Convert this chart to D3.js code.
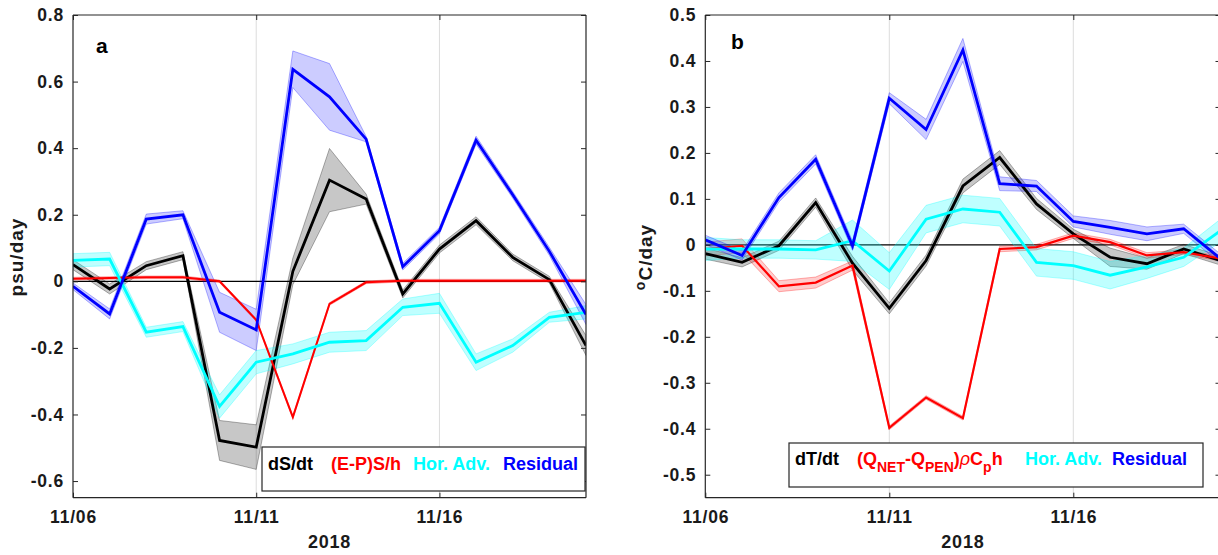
<!DOCTYPE html>
<html><head><meta charset="utf-8">
<script src="https://cdn.jsdelivr.net/npm/d3@7"></script>
<style>body{margin:0;background:#fff}text{font-family:"Liberation Sans",Arial,Helvetica,sans-serif;font-weight:bold}</style>
</head><body>
<svg id="c" width="1218" height="555"></svg>
<script>
const dates = ["2018-11-06","2018-11-07","2018-11-08","2018-11-09","2018-11-10","2018-11-11","2018-11-12","2018-11-13","2018-11-14","2018-11-15","2018-11-16","2018-11-17","2018-11-18","2018-11-19","2018-11-20"];
const xTickDates = ["2018-11-06","2018-11-11","2018-11-16"];
const yTicksA = [-0.6,-0.4,-0.2,0,0.2,0.4,0.6,0.8];
const yTicksB = [-0.5,-0.4,-0.3,-0.2,-0.1,0,0.1,0.2,0.3,0.4,0.5];

// Panel a (salinity budget, psu/day)
const dSdt   = [0.05,-0.023,0.047,0.077,-0.478,-0.498,0.03,0.304,0.247,-0.038,0.097,0.182,0.072,0.005,-0.193];
const dSdtErr= [0.015,0.015,0.012,0.012,0.06,0.067,0.04,0.095,0.015,0.012,0.012,0.012,0.01,0.01,0.03];
const epS    = [0.008,0.01,0.012,0.012,0.0,-0.116,-0.408,-0.068,-0.003,0.002,0.002,0.002,0.002,0.002,0.002];
const epSErr = [0.004,0.004,0.004,0.004,0.004,0.004,0.004,0.004,0.004,0.004,0.004,0.004,0.004,0.004,0.004];
const advS   = [0.063,0.067,-0.153,-0.136,-0.376,-0.243,-0.218,-0.183,-0.178,-0.078,-0.066,-0.243,-0.193,-0.108,-0.093];
const advSErr= [0.02,0.02,0.015,0.015,0.035,0.035,0.03,0.03,0.03,0.025,0.03,0.025,0.02,0.015,0.02];
const resS   = [-0.015,-0.098,0.187,0.2,-0.093,-0.146,0.637,0.554,0.427,0.044,0.152,0.424,0.26,0.09,-0.1];
const resSErr= [0.01,0.015,0.015,0.012,0.06,0.062,0.055,0.1,0.008,0.01,0.01,0.012,0.01,0.012,0.03];

// Panel b (temperature budget, °C/day)
const dTdt   = [-0.019,-0.038,-0.002,0.092,-0.04,-0.138,-0.034,0.128,0.19,0.089,0.024,-0.027,-0.041,-0.009,-0.034];
const dTdtErr= [0.012,0.01,0.01,0.01,0.015,0.012,0.012,0.015,0.015,0.012,0.01,0.02,0.012,0.01,0.01];
const qT     = [-0.009,-0.002,-0.09,-0.082,-0.045,-0.398,-0.332,-0.377,-0.009,-0.005,0.02,0.006,-0.023,-0.016,-0.03];
const qTErr  = [0.015,0.015,0.012,0.012,0.01,0.004,0.004,0.004,0.006,0.006,0.006,0.006,0.006,0.005,0.005];
const advT   = [-0.009,-0.009,-0.009,-0.011,0.009,-0.057,0.056,0.078,0.071,-0.038,-0.045,-0.066,-0.048,-0.027,0.031];
const advTErr= [0.025,0.02,0.02,0.02,0.045,0.04,0.03,0.03,0.03,0.03,0.03,0.03,0.025,0.02,0.025];
const resT   = [0.011,-0.023,0.103,0.186,-0.002,0.319,0.251,0.424,0.133,0.128,0.051,0.038,0.024,0.035,-0.03];
const resTErr= [0.01,0.01,0.01,0.01,0.01,0.012,0.022,0.025,0.015,0.012,0.012,0.015,0.015,0.01,0.01];

const parse = d3.utcParse("%Y-%m-%d");
const X = dates.map(parse);
const svg = d3.select("#c");
const AX = "#262626";

function panel(cfg){
  const x = d3.scaleUtc().domain([X[0], X[X.length-1]]).range(cfg.xr);
  const y = d3.scaleLinear().domain(cfg.yd).range([497.7, 15]);
  const g = svg.append("g");
  const clipId = "clip"+cfg.id;
  svg.append("clipPath").attr("id",clipId).append("rect")
    .attr("x",cfg.xr[0]).attr("y",15).attr("width",cfg.xr[1]-cfg.xr[0]).attr("height",482.7);
  // grid
  const tdates = xTickDates.map(parse);
  g.selectAll(".grid").data(tdates.slice(1)).join("line")
    .attr("x1",d=>x(d)).attr("x2",d=>x(d)).attr("y1",15).attr("y2",497.7)
    .attr("stroke","#dcdcdc").attr("stroke-width",1);
  const pg = g.append("g").attr("clip-path",`url(#${clipId})`);
  // zero line
  pg.append("line").attr("x1",cfg.xr[0]).attr("x2",cfg.xr[1]).attr("y1",y(0)).attr("y2",y(0))
    .attr("stroke","#000").attr("stroke-width",1.3);
  const area = d3.area().x((d,i)=>x(X[i])).y0(d=>y(d[0]-d[1])).y1(d=>y(d[0]+d[1]));
  const line = d3.line().x((d,i)=>x(X[i])).y(d=>y(d));
  cfg.series.forEach(s=>{
    pg.append("path").datum(s.v.map((v,i)=>[v,s.e[i]])).attr("d",area)
      .attr("fill",s.c).attr("fill-opacity",s.fo).attr("stroke",s.c).attr("stroke-opacity",0.3).attr("stroke-width",1);
  });
  cfg.series.forEach(s=>{
    pg.append("path").datum(s.v).attr("d",line).attr("fill","none")
      .attr("stroke",s.c).attr("stroke-width",s.w).attr("stroke-linejoin","miter");
  });
  // axes
  const yAxL = d3.axisLeft(y).tickValues(cfg.yt).tickSize(-5).tickPadding(9)
    .tickFormat(d=>d===0?"0":d3.format(".1f")(d).replace("−","-"));
  const gl = g.append("g").attr("transform",`translate(${cfg.xr[0]},0)`).call(yAxL);
  const yAxR = d3.axisRight(y).tickValues(cfg.yt).tickSize(-5).tickFormat("");
  const gr = g.append("g").attr("transform",`translate(${cfg.xr[1]},0)`).call(yAxR);
  const xAxB = d3.axisBottom(x).tickValues(tdates).tickSize(-5).tickPadding(13).tickFormat(d3.utcFormat("%m/%d"));
  const gb = g.append("g").attr("transform",`translate(0,497.7)`).call(xAxB);
  const xAxT = d3.axisTop(x).tickValues(tdates).tickSize(-5).tickFormat("");
  const gt = g.append("g").attr("transform",`translate(0,15)`).call(xAxT);
  [gl,gr,gb,gt].forEach(a=>{
    a.selectAll(".domain").attr("stroke",AX).attr("stroke-width",1.2);
    a.selectAll(".tick line").attr("stroke",AX);
    a.selectAll("text").attr("fill","#1a1a1a").attr("font-size",17.5).attr("letter-spacing",0.8).attr("font-family",null);
  });
  gl.selectAll(".domain").attr("d",`M0,15V497.7`);
  gr.selectAll(".domain").attr("d",`M0,15V497.7`);
  gb.selectAll(".domain").attr("d",`M${cfg.xr[0]},0H${cfg.xr[1]}`);
  gt.selectAll(".domain").attr("d",`M${cfg.xr[0]},0H${cfg.xr[1]}`);
  // labels
  g.append("text").attr("x",(cfg.xr[0]+cfg.xr[1])/2).attr("y",548).attr("text-anchor","middle")
    .attr("font-size",18).attr("letter-spacing",0.8).attr("fill","#1a1a1a").text("2018");
  g.append("text").attr("x",cfg.letterX).attr("y",cfg.letterY).attr("font-size",21).attr("fill","#000").text(cfg.letter);
  const yl = g.append("text").attr("transform",`translate(${cfg.ylx},257) rotate(-90)`)
    .attr("text-anchor","middle").attr("font-size",19).attr("letter-spacing",1).attr("fill","#1a1a1a");
  cfg.ylab(yl);
  // legend
  const L = cfg.legend;
  g.append("rect").attr("x",L.x).attr("y",L.y).attr("width",L.w).attr("height",L.h)
    .attr("fill","#fff").attr("stroke",AX).attr("stroke-width",1.2);
  L.items.forEach(it=>{
    const t = g.append("text").attr("x",it.x).attr("y",L.base).attr("font-size",18).attr("fill",it.c);
    it.build(t);
  });
}

const BLACK="#000000", RED="#ff0000", CYAN="#00ffff", BLUE="#0000ff";

panel({
  id:"a", xr:[73,586], yd:[-0.65,0.8], yt:yTicksA, letter:"a", letterX:96, letterY:53, ylx:23,
  ylab:t=>t.text("psu/day"),
  series:[
    {v:dSdt,e:dSdtErr,c:BLACK,fo:0.22,w:2.8},
    {v:epS,e:epSErr,c:RED,fo:0.2,w:2},
    {v:advS,e:advSErr,c:CYAN,fo:0.25,w:2.8},
    {v:resS,e:resSErr,c:BLUE,fo:0.2,w:2.8}
  ],
  legend:{x:262,y:447,w:323,h:44,base:470,items:[
    {x:268,c:BLACK,build:t=>t.text("dS/dt")},
    {x:331,c:RED,build:t=>t.text("(E-P)S/h")},
    {x:413,c:CYAN,build:t=>t.text("Hor. Adv.")},
    {x:503,c:BLUE,build:t=>t.text("Residual")}
  ]}
});

panel({
  id:"b", xr:[705.3,1220.5], yd:[-0.55,0.5], yt:yTicksB, letter:"b", letterX:731, letterY:49, ylx:652,
  ylab:t=>{t.append("tspan").attr("font-size",14).attr("dy",-7).text("o");t.append("tspan").attr("dy",7).text("C/day");},
  series:[
    {v:dTdt,e:dTdtErr,c:BLACK,fo:0.22,w:2.8},
    {v:qT,e:qTErr,c:RED,fo:0.2,w:2.2},
    {v:advT,e:advTErr,c:CYAN,fo:0.25,w:2.8},
    {v:resT,e:resTErr,c:BLUE,fo:0.2,w:2.8}
  ],
  legend:{x:789,y:443,w:414,h:44,base:465,items:[
    {x:795,c:BLACK,build:t=>t.text("dT/dt")},
    {x:857,c:RED,build:t=>{
      t.append("tspan").text("(Q");
      t.append("tspan").attr("font-size",14).attr("dy",7).text("NET");
      t.append("tspan").attr("dy",-7).text("-Q");
      t.append("tspan").attr("font-size",14).attr("dy",7).text("PEN");
      t.append("tspan").attr("dy",-7).text(")");
      t.append("tspan").attr("font-style","italic").attr("font-weight","normal").text("ρ");
      t.append("tspan").text("C");
      t.append("tspan").attr("font-size",14).attr("dy",7).text("p");
      t.append("tspan").attr("dy",-7).text("h");
    }},
    {x:1025,c:CYAN,build:t=>t.text("Hor. Adv.")},
    {x:1112,c:BLUE,build:t=>t.text("Residual")}
  ]}
});
</script>
</body></html>
